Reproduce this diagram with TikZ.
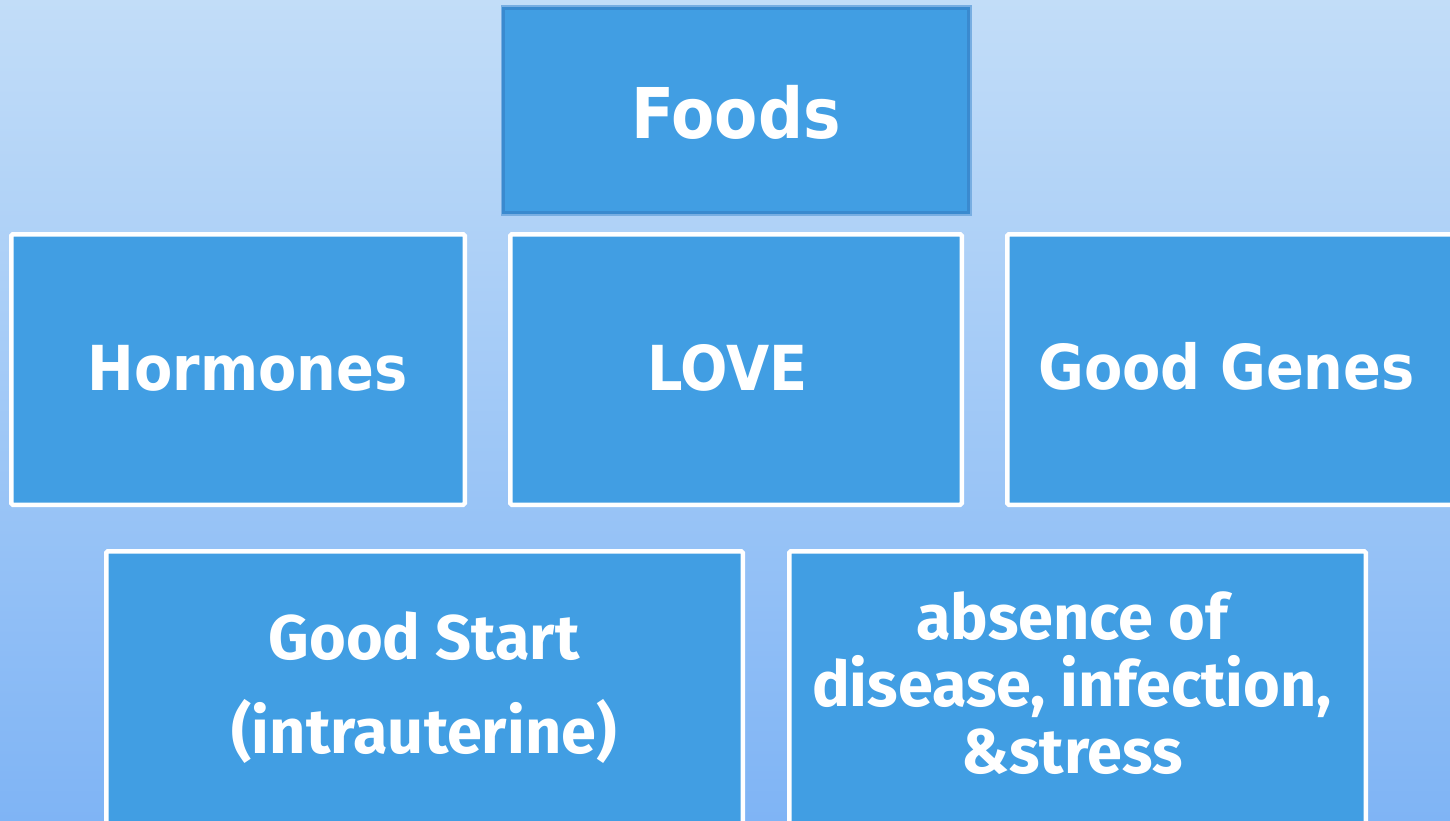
\documentclass[tikz,border=0pt]{standalone}
\usepackage{fontspec}
\newfontfamily\topfont{DejaVu Sans}[FakeStretch=0.9]
\newfontfamily\botfont{Fira Sans}
\definecolor{boxblue}{HTML}{419EE3}
\definecolor{bgtop}{HTML}{C2DDF8}
\definecolor{bgbot}{HTML}{7FB4F5}
\definecolor{foodsedge}{HTML}{3A8ACF}
\definecolor{foodsglow}{HTML}{78AEE2}
\tikzset{
  cardbox/.style={fill=boxblue, draw=white, line width=4.5pt, rounded corners=1.5pt, outer sep=0pt, inner sep=0pt, anchor=north west},
  foodbox/.style={fill=boxblue, draw=foodsedge, line width=3pt, outer sep=0pt, inner sep=0pt, anchor=north west,
    preaction={draw=foodsglow, line width=6pt, rounded corners=2pt}},
  toptext/.style={text=white, inner sep=0pt, anchor=base, font=\topfont\bfseries\fontsize{62}{70}\selectfont},
  bottext/.style={text=white, inner sep=0pt, anchor=base, align=center, font=\botfont\bfseries\fontsize{63}{67}\selectfont},
}
\begin{document}
\begin{tikzpicture}[x=1pt,y=-1pt]
\useasboundingbox (0,0) rectangle (1450,821);
\clip (0,0) rectangle (1450,821);
\shade[top color=bgtop, bottom color=bgbot] (0,0) rectangle (1450,821);
% boxes
\node[foodbox, minimum width=465pt, minimum height=204pt] (foodsBox) at (503.5,8.5) {};
\node[cardbox, minimum width=453.5pt, minimum height=270.5pt] (hormonesBox) at (11.25,234.25) {};
\node[cardbox, minimum width=451.5pt, minimum height=270.5pt] (loveBox) at (510.25,234.25) {};
\node[cardbox, minimum width=512.75pt, minimum height=270.5pt] (genesBox) at (1007.25,234.25) {};
\node[cardbox, minimum width=636.5pt, minimum height=348.75pt] (startBox) at (106.25,551.25) {};
\node[cardbox, minimum width=576.5pt, minimum height=348.75pt] (absenceBox) at (789.25,551.25) {};
% texts
\node[toptext, font=\topfont\bfseries\fontsize{70}{80}\selectfont] (foods) at (736,139) {Foods};
\node[toptext] (hormones) at (247.5,390) {Hormones};
\node[toptext] (love) at (727.5,390) {LOVE};
\node[toptext] (genes) at (1226.5,389) {Good Genes};
\node[bottext] (start) at (424,753) {Good Start\\[27pt](intrauterine)};
\node[bottext] (absence) at (1072,773) {absence of\\disease, infection,\\\&stress};
\end{tikzpicture}
\end{document}
